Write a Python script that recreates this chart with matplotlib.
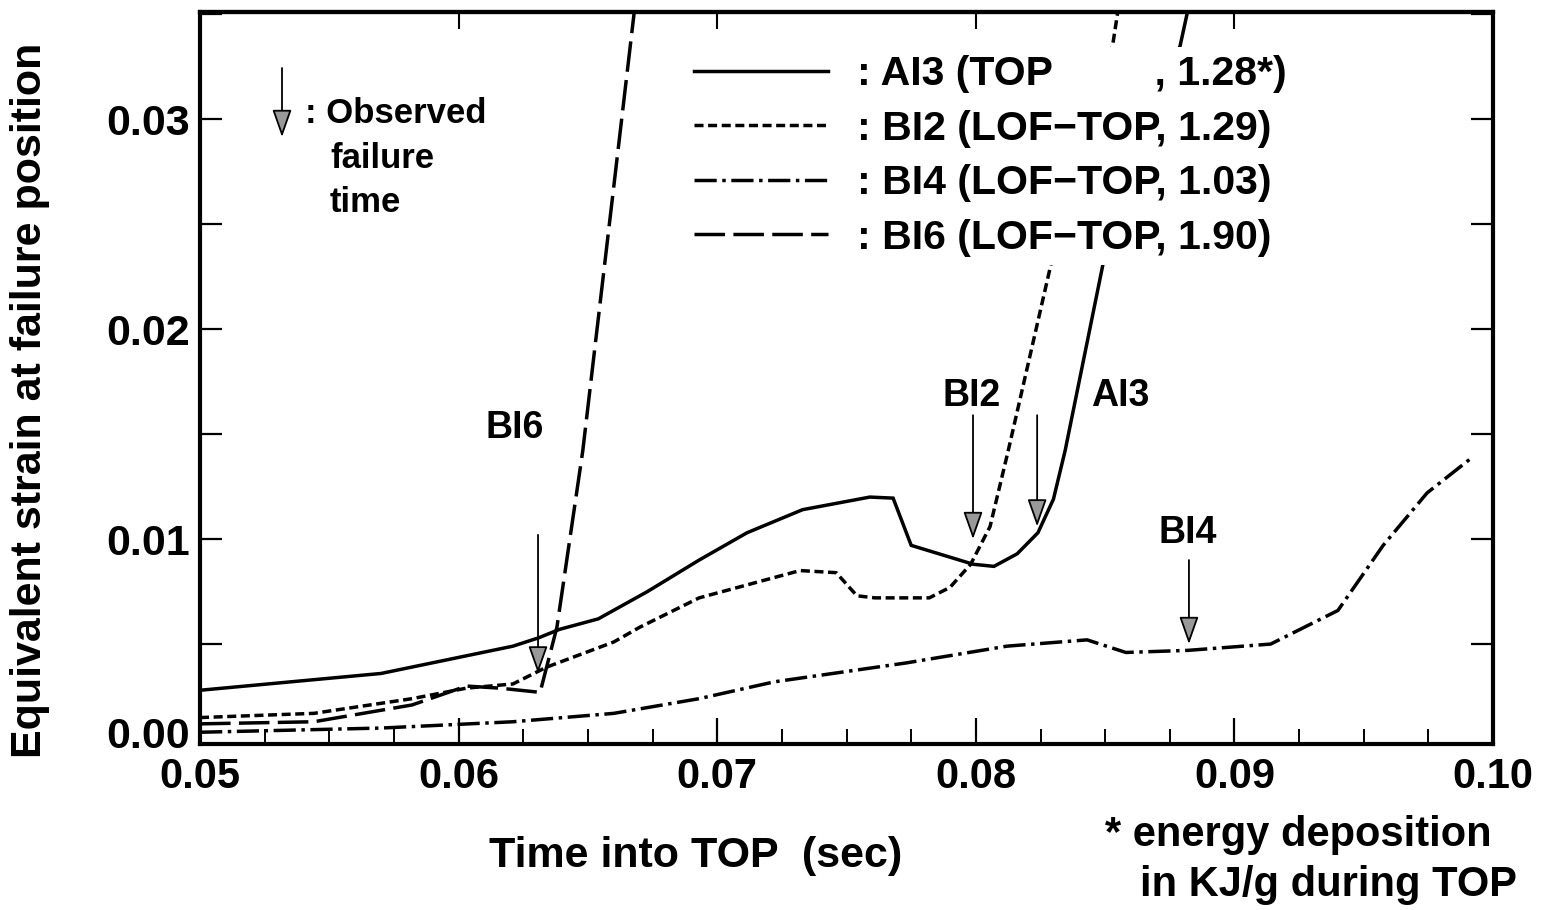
# strain_plot.py
# Equivalent strain at failure position vs time into TOP

import matplotlib
matplotlib.use('agg')
import matplotlib.pyplot as plt
from matplotlib.ticker import MultipleLocator

### Data ###

# AI3 (TOP, 1.28 KJ/g)
ai3_t = [0.0500, 0.0570, 0.0621, 0.0631, 0.0639, 0.0654, 0.0673, 0.0693, 0.07115,
         0.0733, 0.0759, 0.0768, 0.0775, 0.0799, 0.0807, 0.0816, 0.0824, 0.0830,
         0.08345, 0.0850, 0.0879, 0.0882]
ai3_y = [0.0028, 0.0036, 0.0049, 0.0053, 0.0057, 0.0062, 0.0075, 0.0090, 0.0103,
         0.0114, 0.0120, 0.01195, 0.0097, 0.0088, 0.0087, 0.0093, 0.0103, 0.0119,
         0.0142, 0.0236, 0.0335, 0.0352]

# BI2 (LOF-TOP, 1.29)
bi2_t = [0.0500, 0.0544, 0.0582, 0.0603, 0.0621, 0.0634, 0.0660, 0.0670, 0.0693,
         0.0732, 0.0746, 0.0754, 0.0761, 0.0782, 0.0790, 0.0798, 0.08055, 0.08125,
         0.0830, 0.0853, 0.0855]
bi2_y = [0.0015, 0.0017, 0.0024, 0.0029, 0.0031, 0.0039, 0.0051, 0.0058, 0.0072,
         0.0085, 0.0084, 0.0073, 0.0072, 0.0072, 0.0077, 0.0088, 0.0106, 0.0142,
         0.0236, 0.0336, 0.0352]

# BI4 (LOF-TOP, 1.03)
bi4_t = [0.0500, 0.0570, 0.0621, 0.0660, 0.0693, 0.0722, 0.0773, 0.0812, 0.0843,
         0.0858, 0.0882, 0.0914, 0.0940, 0.09575, 0.09745, 0.0991]
bi4_y = [0.0008, 0.0010, 0.0013, 0.0017, 0.0024, 0.0032, 0.0041, 0.0049, 0.0052,
         0.0046, 0.0047, 0.0050, 0.0066, 0.0097, 0.0122, 0.0138]

# BI6 (LOF-TOP, 1.90)
bi6_t = [0.0500, 0.0544, 0.0582, 0.0603, 0.0616, 0.06315, 0.0638, 0.0648, 0.0668]
bi6_y = [0.0012, 0.0013, 0.0021, 0.0030, 0.0029, 0.0027, 0.0058, 0.0142, 0.0352]

# observed failure times (arrows): time, arrow start, arrow tip
fail_names = ['BI6', 'BI2', 'AI3', 'BI4']
fail_t = [0.06307, 0.07989, 0.08237, 0.08824]
fail_top = [0.0102, 0.0159, 0.0159, 0.0090]
fail_tip = [0.0036, 0.0100, 0.0106, 0.0050]
# label positions (centre)
lab_t = [0.06218, 0.07985, 0.08558, 0.0882]
lab_y = [0.0153, 0.0168, 0.0168, 0.0103]

legend_labels = [': AI3 (TOP         , 1.28*)',
                 ': BI2 (LOF\u2212TOP, 1.29)',
                 ': BI4 (LOF\u2212TOP, 1.03)',
                 ': BI6 (LOF\u2212TOP, 1.90)']

x_ticks = [0.05, 0.06, 0.07, 0.08, 0.09, 0.10]
y_ticks = [0.01, 0.02, 0.03]

### Plot ###
plt.rcParams['font.family'] = ['Liberation Sans', 'DejaVu Sans']
plt.rcParams['font.weight'] = 'bold'
plt.rcParams['lines.scale_dashes'] = False

fig = plt.figure(figsize=(15.41, 9.10), dpi=100)
ax = fig.add_axes([0.1298, 0.1824, 0.8391, 0.8044])

lw = 2.5
l1, = ax.plot(ai3_t, ai3_y, color='black', lw=lw, solid_joinstyle='miter')
l2, = ax.plot(bi2_t, bi2_y, color='black', lw=lw, dashes=(6.5, 3.3))
l3, = ax.plot(bi4_t, bi4_y, color='black', lw=lw, dashes=(16, 4, 2.5, 4))
l4, = ax.plot(bi6_t, bi6_y, color='black', lw=lw, dashes=(22, 6))

# failure arrows
arrow_kw = dict(arrowstyle='-|>,head_length=0.85,head_width=0.3', lw=1.3,
                fc='0.6', ec='black', mutation_scale=20, shrinkA=0, shrinkB=0)
for t, y0, y1 in zip(fail_t, fail_top, fail_tip):
    ax.annotate('', xy=(t, y1), xytext=(t, y0), arrowprops=arrow_kw)
for name, t, y in zip(fail_names, lab_t, lab_y):
    ax.text(t, y, name, fontsize=27, fontweight='bold', ha='center', va='center')

# "observed failure time" key
ax.annotate('', xy=(0.0634, 0.8292), xytext=(0.0634, 0.9235),
            xycoords='axes fraction', textcoords='axes fraction',
            arrowprops=arrow_kw)
ax.text(0.0812, 0.8607, ': Observed', transform=ax.transAxes, fontsize=25,
        fontweight='bold', va='center', ha='left')
ax.text(0.1005, 0.8005, 'failure', transform=ax.transAxes, fontsize=25,
        fontweight='bold', va='center', ha='left')
ax.text(0.1005, 0.7404, 'time', transform=ax.transAxes, fontsize=25,
        fontweight='bold', va='center', ha='left')

leg = ax.legend([l1, l2, l3, l4], legend_labels, loc='upper left',
                bbox_to_anchor=(0.3755, 0.952), frameon=True, facecolor='white',
                edgecolor='none', framealpha=1, fontsize=29.5, handlelength=3.27,
                handletextpad=0.72, labelspacing=0.40, borderpad=0.2,
                borderaxespad=0)

# axes limits and ticks
ax.set_xlim(0.05, 0.10)
ax.set_ylim(0.00024, 0.0351)
ax.xaxis.set_minor_locator(MultipleLocator(0.0025))
ax.yaxis.set_minor_locator(MultipleLocator(0.005))
ax.set_xticks(x_ticks)
ax.set_xticklabels(['%.2f' % v for v in x_ticks])
ax.set_yticks(y_ticks)
ax.set_yticklabels(['%.2f' % v for v in y_ticks])
ax.tick_params(axis='x', which='major', direction='in', length=19, width=1.6,
               labelsize=30, pad=9)
ax.tick_params(axis='x', which='minor', direction='in', length=11, width=1.4)
ax.tick_params(axis='y', which='both', direction='in', length=16, width=1.6,
               labelsize=31, pad=7, right=True)
for lab in ax.get_xticklabels() + ax.get_yticklabels():
    lab.set_fontweight('bold')
# the 0.00 label sits just above the bottom axis line
ax.annotate('0.00', xy=(0, 0.00057), xycoords=('axes fraction', 'data'),
            xytext=(-7, 0), textcoords='offset points', fontsize=31,
            fontweight='bold', ha='right', va='center')

secx = ax.secondary_xaxis('top')
secx.set_xticks(x_ticks[1:-1])
secx.set_xticklabels([])
secx.tick_params(direction='in', length=12, width=1.5)

for sp in ax.spines.values():
    sp.set_linewidth(3)
secx.spines['top'].set_linewidth(3)

ax.set_xlabel('Time into TOP  (sec)', fontsize=31, fontweight='bold')
ax.xaxis.set_label_coords(0.383, -0.126)
ax.xaxis.label.set_va('top')
ax.set_ylabel('Equivalent strain at failure position', fontsize=31,
              fontweight='bold')
ax.yaxis.set_label_coords(-0.116, 0.47)

fig.text(0.717, 0.0824, '* energy deposition', fontsize=30, fontweight='bold',
         va='center', ha='left')
fig.text(0.740, 0.0275, 'in KJ/g during TOP', fontsize=30, fontweight='bold',
         va='center', ha='left')

plt.savefig('out.png', dpi=100)
